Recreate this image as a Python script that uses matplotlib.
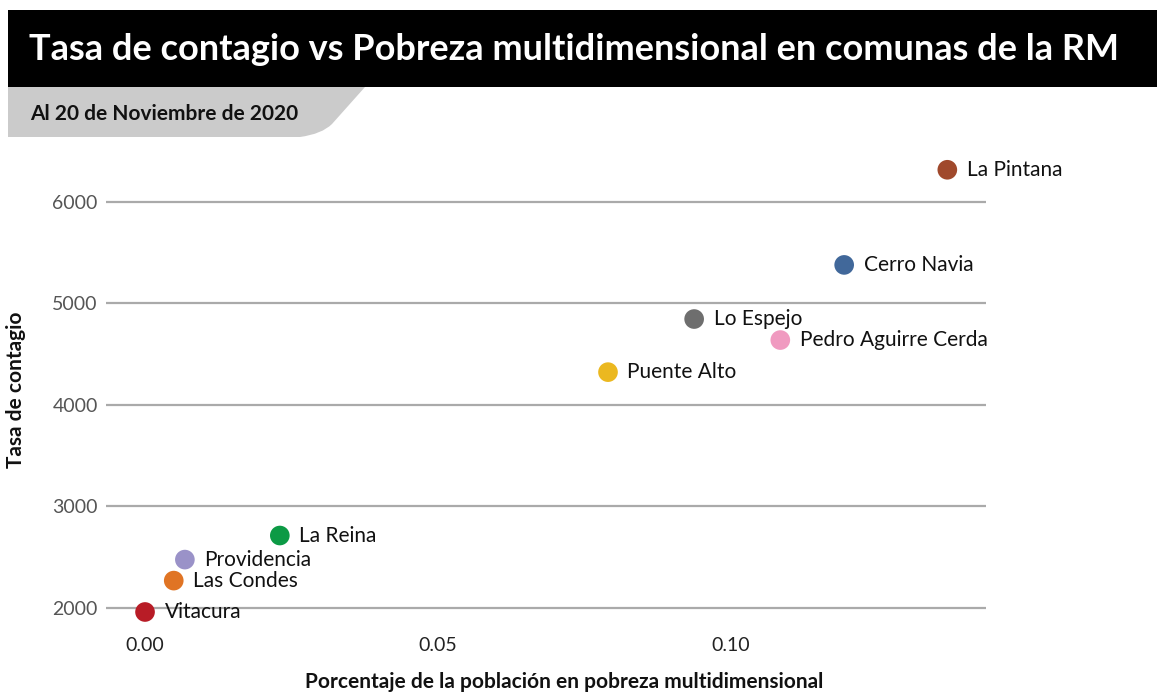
import matplotlib.pyplot as plt
import matplotlib.patches as mpatches
from matplotlib.path import Path

#--data
comunas=['La Pintana','Cerro Navia','Lo Espejo','Pedro Aguirre Cerda','Puente Alto',
         'La Reina','Providencia','Las Condes','Vitacura']
pobreza=[0.1369,0.1193,0.0937,0.1084,0.0790,0.0230,0.0068,0.0049,0.0000]
tasa=[6316,5379,4846,4639,4323,2714,2477,2270,1961]
colores=['#a0492c','#41689a','#6e6e6e','#f09ac0','#ebb820','#0c9a45','#9a92c8','#e07424','#b81c26']
xticks=[0.00,0.05,0.10]
yticks=[2000,3000,4000,5000,6000]

plt.rcParams['font.family']=['Lato','DejaVu Sans']
W,H=1157,692
fig=plt.figure(figsize=(W/100,H/100),dpi=100)

#--background decorations in pixel coords
bg=fig.add_axes([0,0,1,1])
bg.set_xlim(0,W) ; bg.set_ylim(H,0) ; bg.axis('off')
bg.add_patch(mpatches.Rectangle((8,10),W-8,77,color='black',lw=0))
verts=[(8,87),(365,87),(332,124),(322,134),(300,137),(8,137),(8,87)]
codes=[Path.MOVETO,Path.LINETO,Path.LINETO,Path.CURVE3,Path.CURVE3,Path.LINETO,Path.CLOSEPOLY]
bg.add_patch(mpatches.PathPatch(Path(verts,codes),facecolor='#cbcbcb',lw=0))
bg.text(29,49,'Tasa de contagio vs Pobreza multidimensional en comunas de la RM',
        color='white',fontsize=26,fontweight='bold',va='center',ha='left')
bg.text(30,114,'Al 20 de Noviembre de 2020',color='#111111',fontsize=15,
        fontweight='bold',va='center',ha='left')
bg.text(564,682,'Porcentaje de la población en pobreza multidimensional',fontsize=15,
        fontweight='bold',va='center',ha='center',color='#111111')
bg.text(16,390,'Tasa de contagio',fontsize=15,fontweight='bold',va='center',
        ha='center',rotation=90,color='#111111')

#--main scatter
ax=fig.add_axes([106/W,0.092,880/W,0.675])
ax.scatter(pobreza,tasa,s=200,c=colores,zorder=3,clip_on=False,linewidths=0)
for x,y,nom in zip(pobreza,tasa,comunas):
  ax.annotate(nom,(x,y),xytext=(14,0),textcoords='offset points',va='center',
              ha='left',fontsize=15,color='#111111',annotation_clip=False)
for yt in yticks:
  ax.axhline(yt,color='#aaaaaa',lw=1.6,zorder=1)
ax.set_xlim(-0.00666,0.1435)
ax.set_ylim(1800,6400)
ax.set_xticks(xticks)
ax.set_xticklabels(['%.2f'%v for v in xticks],fontsize=14,color='#222222')
ax.set_yticks(yticks)
ax.set_yticklabels([str(v) for v in yticks],fontsize=14,color='#555555')
ax.tick_params(length=0,pad=6)
for s in ax.spines.values(): s.set_visible(False)

fig.savefig('out.png',dpi=100)
